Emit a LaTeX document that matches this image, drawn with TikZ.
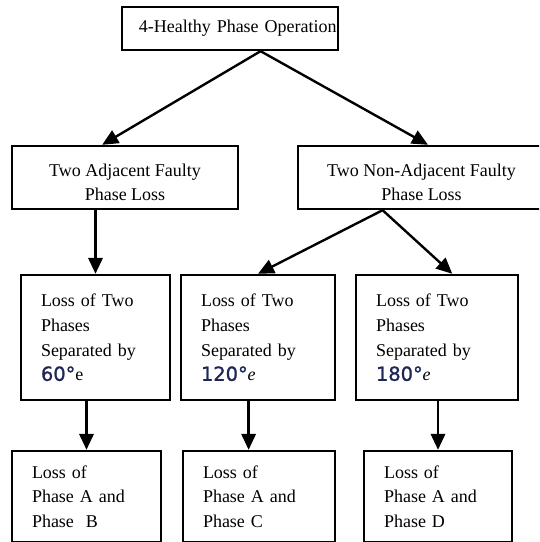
\documentclass[tikz,border=0pt]{standalone}
\usepackage{fontspec}
\setmainfont{Liberation Serif}
\newfontfamily\degfont[FakeBold=1.2]{DejaVu Sans}
\usetikzlibrary{arrows.meta,calc}
\definecolor{degnum}{RGB}{30,38,85}
\newcommand{\sepdeg}[1]{{\degfont\fontsize{13.8}{17.6}\selectfont\color{degnum}#1°}}

\begin{document}
\begin{tikzpicture}[line width=1.7pt,
  every node/.style={font=\fontsize{12.8}{17.6}\selectfont},
  box/.style={draw,rectangle,inner ysep=0pt},
  leftbox/.style={box,align=left,inner xsep=0.5cm},
  arr/.style={-{Triangle[length=0.4cm,width=0.36cm]}}]
\useasboundingbox (0,0) rectangle (13.475,13.55);
\clip (0,0) rectangle (13.475,13.55);
%boxes
\node[box,align=left,inner xsep=0pt,text width=5.4cm,minimum height=1.075cm] (healthy) at (5.75,12.8375) {\hspace*{0.42cm}\mbox{4-Healthy Phase Operation}};
\node[box,align=center,minimum width=5.65cm,minimum height=1.575cm] (adjacent) at (3.125,9.1125) {\rule{0pt}{0.55cm}Two Adjacent Faulty\\Phase Loss};
\node[box,align=center,minimum width=6.175cm,minimum height=1.575cm] (nonadjacent) at (10.5375,9.1125) {\rule{0pt}{0.55cm}Two Non-Adjacent Faulty\\Phase Loss};
\node[leftbox,text width=2.725cm,minimum height=3.125cm] (sixty) at (2.3875,5.1125) {Loss of Two\\Phases\\Separated by\\\sepdeg{60}e};
\node[leftbox,text width=2.85cm,minimum height=3.125cm] (onetwenty) at (6.45,5.1125) {Loss of Two\\Phases\\Separated by\\\sepdeg{120}\textit{e}};
\node[leftbox,text width=3.05cm,minimum height=3.125cm] (oneeighty) at (10.925,5.1125) {Loss of Two\\Phases\\Separated by\\\sepdeg{180}\textit{e}};
\node[leftbox,text width=2.725cm,minimum height=2.275cm] (lossAB) at (2.1625,1.1375) {Loss of\\Phase A and\\Phase\ \ B};
\node[leftbox,text width=2.8cm,minimum height=2.275cm] (lossAC) at (6.475,1.1375) {Loss of\\Phase A and\\Phase C};
\node[leftbox,text width=2.7cm,minimum height=2.275cm] (lossAD) at (10.95,1.1375) {Loss of\\Phase A and\\Phase D};
%split points
\coordinate (topsplit) at ($(healthy.south west)!0.64!(healthy.south east)$);
\coordinate (nonsplit) at ($(nonadjacent.south west)!0.344!(nonadjacent.south east)$);
\coordinate (midsplit) at ($(onetwenty.south west)!0.44!(onetwenty.south east)$);
%arrows
\draw[arr] (topsplit) -- ($(adjacent.north west)!0.4!(adjacent.north east)$);
\draw[arr] (topsplit) -- ($(nonadjacent.north west)!0.526!(nonadjacent.north east)$);
\draw[arr] (sixty.north |- adjacent.south) -- (sixty.north);
\draw[arr] (nonsplit) -- (onetwenty.north);
\draw[arr] (nonsplit) -- ($(oneeighty.north west)!0.593!(oneeighty.north east)$);
\draw[arr] (lossAB.north |- sixty.south) -- (lossAB.north);
\draw[arr] (midsplit) -- (midsplit |- lossAC.north);
\draw[arr] (lossAD.north |- oneeighty.south) -- (lossAD.north);
\end{tikzpicture}
\end{document}
